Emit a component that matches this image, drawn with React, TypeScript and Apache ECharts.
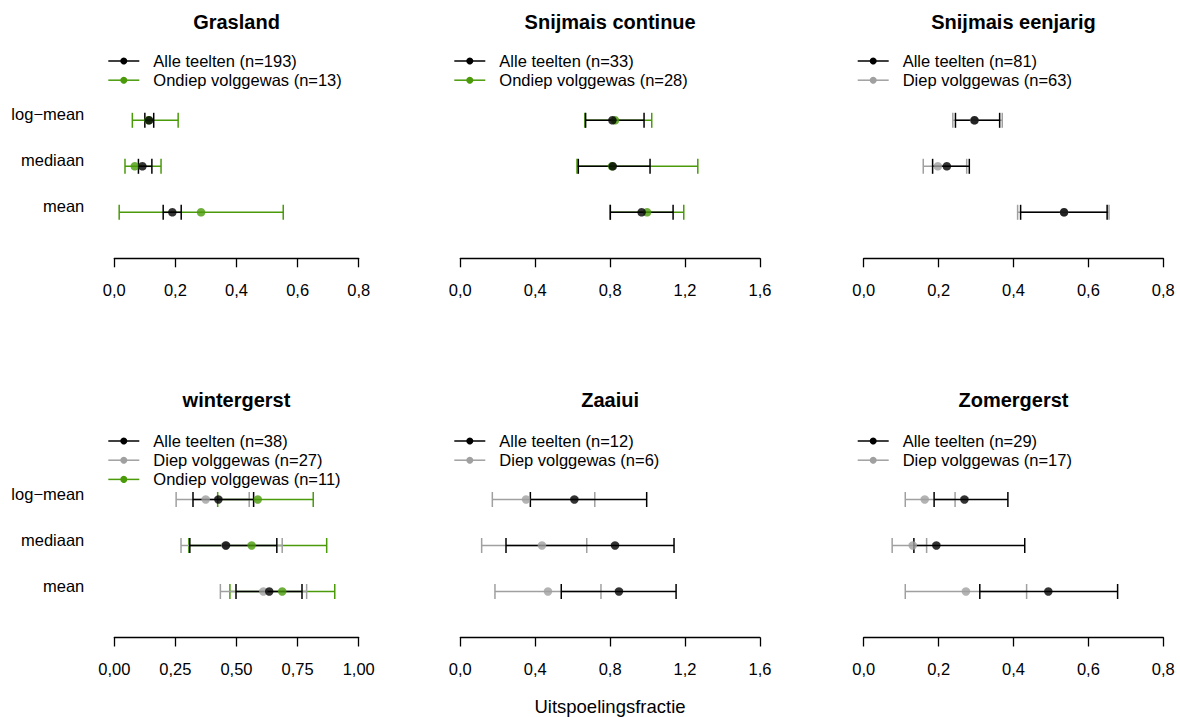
import React, { useEffect, useRef } from "react";
import * as echarts from "echarts";

// Rows of every panel (y = 1, 2, 3)
const statLabels = ["mean", "mediaan", "log−mean"];

const panelTitles = ["Grasland", "Snijmais continue", "Snijmais eenjarig", "wintergerst", "Zaaiui", "Zomergerst"];
const axisMax = [0.8, 1.6, 0.8, 1.0, 1.6, 0.8];
const axisStep = [0.2, 0.4, 0.2, 0.25, 0.4, 0.2];
const axisDecimals = [1, 1, 1, 2, 1, 1];

const groupLabels = { alle: "Alle teelten", diep: "Diep volggewas", ondiep: "Ondiep volggewas" };
const groupColors = { alle: "#000000", diep: "#A0A0A0", ondiep: "#4A9A0A" };

// [low, estimate, high] for mean, mediaan, log-mean
const graslandAlle = [[0.160, 0.190, 0.219], [0.079, 0.092, 0.123], [0.100, 0.114, 0.129]];
const graslandOndiep = [[0.016, 0.284, 0.553], [0.035, 0.067, 0.153], [0.059, 0.112, 0.209]];

const snijmaisContAlle = [[0.801, 0.968, 1.136], [0.630, 0.814, 1.013], [0.669, 0.812, 0.981]];
const snijmaisContOndiep = [[0.800, 0.997, 1.193], [0.623, 0.810, 1.268], [0.665, 0.826, 1.022]];

const snijmaisEenAlle = [[0.419, 0.535, 0.650], [0.184, 0.222, 0.282], [0.245, 0.296, 0.363]];
const snijmaisEenDiep = [[0.411, 0.535, 0.655], [0.159, 0.198, 0.275], [0.238, 0.295, 0.370]];

const wintergerstAlle = [[0.498, 0.634, 0.768], [0.309, 0.457, 0.665], [0.322, 0.426, 0.570]];
const wintergerstDiep = [[0.434, 0.610, 0.787], [0.273, 0.455, 0.687], [0.253, 0.374, 0.552]];
const wintergerstOndiep = [[0.473, 0.687, 0.902], [0.305, 0.562, 0.869], [0.423, 0.587, 0.814]];

const zaaiuiAlle = [[0.539, 0.847, 1.152], [0.244, 0.826, 1.141], [0.374, 0.609, 0.995]];
const zaaiuiDiep = [[0.185, 0.468, 0.751], [0.114, 0.436, 0.675], [0.171, 0.351, 0.718]];

const zomergerstAlle = [[0.310, 0.493, 0.678], [0.134, 0.194, 0.430], [0.188, 0.269, 0.385]];
const zomergerstDiep = [[0.111, 0.273, 0.435], [0.076, 0.131, 0.168], [0.111, 0.163, 0.244]];

type Group = { key: "alle" | "diep" | "ondiep"; n: number; data: number[][] };
const panelGroups: Group[][] = [
  [{ key: "alle", n: 193, data: graslandAlle }, { key: "ondiep", n: 13, data: graslandOndiep }],
  [{ key: "alle", n: 33, data: snijmaisContAlle }, { key: "ondiep", n: 28, data: snijmaisContOndiep }],
  [{ key: "alle", n: 81, data: snijmaisEenAlle }, { key: "diep", n: 63, data: snijmaisEenDiep }],
  [
    { key: "alle", n: 38, data: wintergerstAlle },
    { key: "diep", n: 27, data: wintergerstDiep },
    { key: "ondiep", n: 11, data: wintergerstOndiep },
  ],
  [{ key: "alle", n: 12, data: zaaiuiAlle }, { key: "diep", n: 6, data: zaaiuiDiep }],
  [{ key: "alle", n: 29, data: zomergerstAlle }, { key: "diep", n: 17, data: zomergerstDiep }],
];

const FONT = "Liberation Sans, Arial, Helvetica, sans-serif";

export default function App() {
  const ref = useRef<HTMLDivElement>(null);

  useEffect(() => {
    if (!ref.current) return;
    const chart = echarts.init(ref.current, null, { renderer: "svg" });

    const cols = [
      { left: 114.3, width: 244.4 },
      { left: 460.3, width: 299.7 },
      { left: 863.7, width: 299.6 },
    ];
    const rowBottoms = [258.3, 637.5];
    const rowSpan = 46;
    const titleY = [22, 400];
    const legendY0 = [61, 441];
    const legendStep = 19.2;

    const grids: any[] = [];
    const xAxes: any[] = [];
    const yAxes: any[] = [];
    const series: any[] = [];
    const graphics: any[] = [];

    panelTitles.forEach((title, p) => {
      const c = cols[p % 3];
      const r = Math.floor(p / 3);
      const bottom = rowBottoms[r];
      grids.push({ left: c.left, width: c.width, top: bottom - 4 * rowSpan, height: 4 * rowSpan, containLabel: false });
      xAxes.push({
        type: "value",
        gridIndex: p,
        min: 0,
        max: axisMax[p],
        interval: axisStep[p],
        axisLine: { show: true, onZero: false, lineStyle: { color: "#000", width: 1.3 } },
        axisTick: { show: true, length: 9, lineStyle: { color: "#000", width: 1.3 } },
        splitLine: { show: false },
        axisLabel: {
          margin: 23,
          fontSize: 16.5,
          fontFamily: FONT,
          color: "#000",
          formatter: (v: number) => v.toFixed(axisDecimals[p]).replace(".", ","),
        },
      });
      yAxes.push({
        type: "value",
        gridIndex: p,
        min: 0,
        max: 4,
        interval: 1,
        axisLine: { show: false },
        axisTick: { show: false },
        splitLine: { show: false },
        axisLabel: {
          show: p % 3 === 0,
          margin: 30,
          fontSize: 16.5,
          fontFamily: FONT,
          color: "#000",
          verticalAlign: "bottom",
          lineHeight: 12,
          formatter: (v: number) => statLabels[v - 1] ?? "",
        },
      });

      // draw order: green, grey, then black on top
      const order = ["ondiep", "diep", "alle"];
      const groups = panelGroups[p];
      order.forEach((k) => {
        const g = groups.find((x) => x.key === k);
        if (!g) return;
        const color = groupColors[g.key];
        series.push({
          type: "custom",
          xAxisIndex: p,
          yAxisIndex: p,
          data: g.data.map((t, i) => [t[0], t[2], i + 1]),
          encode: { x: [0, 1], y: 2 },
          renderItem: (params: any, api: any) => {
            const lo = api.coord([api.value(0), api.value(2)]);
            const hi = api.coord([api.value(1), api.value(2)]);
            const h = 7.5;
            const st = { stroke: color, lineWidth: 1.5 };
            return {
              type: "group",
              children: [
                { type: "line", shape: { x1: lo[0], y1: lo[1], x2: hi[0], y2: hi[1] }, style: st },
                { type: "line", shape: { x1: lo[0], y1: lo[1] - h, x2: lo[0], y2: lo[1] + h }, style: st },
                { type: "line", shape: { x1: hi[0], y1: hi[1] - h, x2: hi[0], y2: hi[1] + h }, style: st },
              ],
            };
          },
        });
        series.push({
          type: "scatter",
          xAxisIndex: p,
          yAxisIndex: p,
          symbol: "circle",
          symbolSize: 8.5,
          itemStyle: { color },
          data: g.data.map((t, i) => [t[1], i + 1]),
        });
      });

      // title
      graphics.push({
        type: "text",
        x: c.left + c.width / 2,
        y: titleY[r],
        style: {
          text: title,
          font: `bold 20px ${FONT}`,
          fill: "#000",
          textAlign: "center",
          textVerticalAlign: "middle",
        },
      });

      // legend
      const lx = c.left - 6;
      groups.forEach((g, i) => {
        const y = legendY0[r] + i * legendStep;
        const color = groupColors[g.key];
        graphics.push({ type: "line", shape: { x1: lx, y1: y, x2: lx + 31, y2: y }, style: { stroke: color, lineWidth: 1.5 } });
        graphics.push({ type: "circle", shape: { cx: lx + 15.5, cy: y, r: 3.5 }, style: { fill: color } });
        graphics.push({
          type: "text",
          x: lx + 45,
          y,
          style: {
            text: `${groupLabels[g.key]} (n=${g.n})`,
            font: `16.5px ${FONT}`,
            fill: "#000",
            textAlign: "left",
            textVerticalAlign: "middle",
          },
        });
      });
    });

    graphics.push({
      type: "text",
      x: 610,
      y: 706,
      style: {
        text: "Uitspoelingsfractie",
        font: `18.5px ${FONT}`,
        fill: "#000",
        textAlign: "center",
        textVerticalAlign: "middle",
      },
    });

    chart.setOption({
      animation: false,
      backgroundColor: "#ffffff",
      grid: grids,
      xAxis: xAxes,
      yAxis: yAxes,
      series,
      graphic: graphics,
    });

    return () => chart.dispose();
  }, []);

  return <div ref={ref} style={{ position: "absolute", left: 0, top: 0, width: 1180, height: 717 }} />;
}
